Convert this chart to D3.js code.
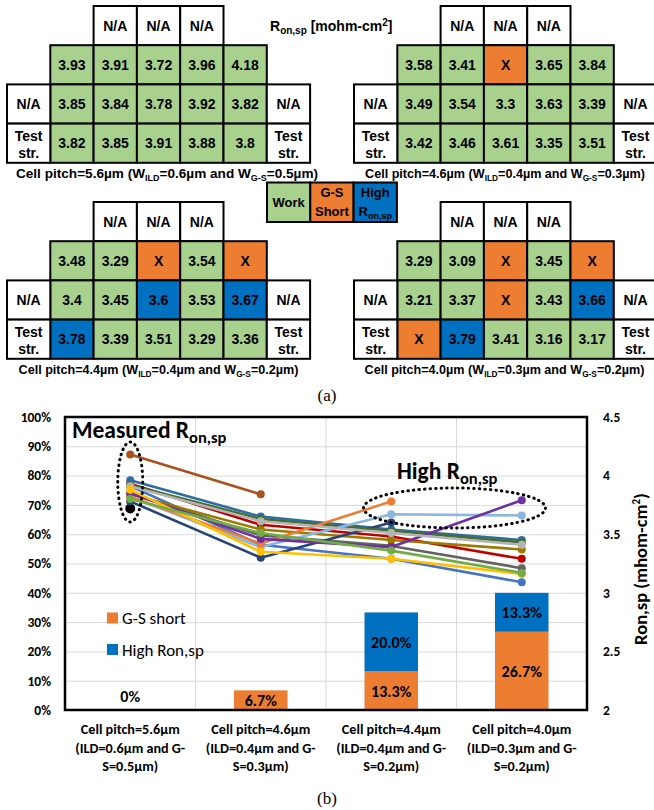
<!DOCTYPE html>
<html>
<head>
<meta charset="utf-8">
<script src="https://cdn.jsdelivr.net/npm/d3@7"></script>
<style>
  body { margin: 0; background: #fff; }
  svg { display: block; }
  .tbl text { font-family: "Liberation Sans", Arial, sans-serif; font-weight: bold; fill: #000; }
  .chart text { font-family: Carlito, Lato, sans-serif; font-weight: bold; fill: #000; }
  .caption { font-family: "Liberation Serif", "Times New Roman", serif; font-size: 17px; }
</style>
</head>
<body>
<svg id="fig" width="654" height="810"></svg>
<script>
// ---------------- data ----------------
const pitches   = ["5.6", "4.6", "4.4", "4.0"];
const ildWidths = ["0.6", "0.4", "0.4", "0.3"];
const gsWidths  = ["0.5", "0.3", "0.2", "0.2"];

// Ron,sp [mohm-cm2] per device, rows of 5, null = G-S short (X)
const ron56 = [3.93, 3.91, 3.72, 3.96, 4.18,
               3.85, 3.84, 3.78, 3.92, 3.82,
               3.82, 3.85, 3.91, 3.88, 3.8];
const ron46 = [3.58, 3.41, null, 3.65, 3.84,
               3.49, 3.54, 3.3,  3.63, 3.39,
               3.42, 3.46, 3.61, 3.35, 3.51];
const ron44 = [3.48, 3.29, null, 3.54, null,
               3.4,  3.45, 3.6,  3.53, 3.67,
               3.78, 3.39, 3.51, 3.29, 3.36];
const ron40 = [3.29, 3.09, null, 3.45, null,
               3.21, 3.37, null, 3.43, 3.66,
               null, 3.79, 3.41, 3.16, 3.17];

// W = work, S = G-S short, H = high Ron,sp
const state56 = ["W","W","W","W","W", "W","W","W","W","W", "W","W","W","W","W"];
const state46 = ["W","W","S","W","W", "W","W","W","W","W", "W","W","W","W","W"];
const state44 = ["W","W","S","W","S", "W","W","H","W","H", "H","W","W","W","W"];
const state40 = ["W","W","S","W","S", "W","W","S","W","H", "S","H","W","W","W"];

// failure ratios [%]
const gsShortPct = [0, 6.7, 13.3, 26.7];
const highRonPct = [0, 0, 20.0, 13.3];

const pctTicks = [0, 10, 20, 30, 40, 50, 60, 70, 80, 90, 100];
const ronTicks = [2, 2.5, 3, 3.5, 4, 4.5];

// line colour of each device (same order as the arrays above)
const deviceColors = ["#C00000", "#4472C4", "#000000", "#2E6DA4", "#A9521B",
                      "#636363", "#9C7A00", "#264478", "#476E31", "#8AB6E0",
                      "#ED7D31", "#7030A0", "#B4B4B4", "#FFC000", "#70AD47"];

const stateFill = { W: "#A9D18E", S: "#ED7D31", H: "#0070C0" };

const svg = d3.select("#fig");

// ---------------- (a) wafer maps ----------------
const cellW = 43.3, cellH = 39.2;

function drawGrid(x0, y0, vals, states, k, capX, capSize) {
  const g = svg.append("g").attr("class", "tbl");
  const col = d3.scaleBand().domain(d3.range(7)).range([x0, x0 + 7 * cellW]);
  const row = d3.scaleBand().domain(d3.range(4)).range([y0, y0 + 4 * cellH]);

  const cells = [];
  [2, 3, 4].forEach(c => cells.push({ r: 0, c, txt: ["N/A"], fill: "#fff" }));
  vals.forEach((v, i) => cells.push({
    r: Math.floor(i / 5) + 1, c: i % 5 + 1,
    txt: [v == null ? "X" : String(v)], fill: stateFill[states[i]]
  }));
  [0, 6].forEach(c => {
    cells.push({ r: 2, c, txt: ["N/A"], fill: "#fff" });
    cells.push({ r: 3, c, txt: ["Test", "str."], fill: "#fff" });
  });

  g.selectAll("rect").data(cells).join("rect")
    .attr("x", d => col(d.c)).attr("y", d => row(d.r))
    .attr("width", col.bandwidth()).attr("height", row.bandwidth())
    .attr("fill", d => d.fill).attr("stroke", "#000").attr("stroke-width", 2);

  g.selectAll("text.v").data(cells).join("text").attr("class", "v")
    .attr("text-anchor", "middle").style("font-size", "14px")
    .each(function (d) {
      const cx = col(d.c) + col.bandwidth() / 2, cy = row(d.r) + row.bandwidth() / 2;
      const t = d3.select(this);
      if (d.txt.length === 1) {
        t.append("tspan").attr("x", cx).attr("y", cy + 5).text(d.txt[0]);
      } else {
        t.append("tspan").attr("x", cx).attr("y", cy - 2).text(d.txt[0]);
        t.append("tspan").attr("x", cx).attr("y", cy + 14.5).text(d.txt[1]);
      }
    });

  const sub = capSize * 0.66;
  const cap = g.append("text").attr("x", capX).attr("y", y0 + 171.5)
    .attr("text-anchor", "middle").style("font-size", capSize + "px");
  cap.append("tspan").text(`Cell pitch=${pitches[k]}µm (W`);
  cap.append("tspan").attr("dy", 3).style("font-size", sub + "px").text("ILD");
  cap.append("tspan").attr("dy", -3).text(`=${ildWidths[k]}µm and W`);
  cap.append("tspan").attr("dy", 3).style("font-size", sub + "px").text("G-S");
  cap.append("tspan").attr("dy", -3).text(`=${gsWidths[k]}µm)`);
}

drawGrid(7, 6, ron56, state56, 0, 167, 13.6);
drawGrid(354, 6, ron46, state46, 1, 505, 12.6);
drawGrid(7, 202, ron44, state44, 2, 158.5, 12.6);
drawGrid(354, 202, ron40, state40, 3, 504.5, 12.6);

// title of the maps
const ttl = svg.append("g").attr("class", "tbl").append("text")
  .attr("x", 270).attr("y", 31).style("font-size", "14px");
ttl.append("tspan").text("R");
ttl.append("tspan").attr("dy", 3).style("font-size", "10px").text("on,sp");
ttl.append("tspan").attr("dy", -3).text(" [mohm-cm");
ttl.append("tspan").attr("dy", -5).style("font-size", "10px").text("2");
ttl.append("tspan").attr("dy", 5).text("]");

// legend of the maps
const legItems = [
  { fill: stateFill.W, lines: [["Work"]] },
  { fill: stateFill.S, lines: [["G-S"], ["Short"]] },
  { fill: stateFill.H, lines: [["High"], ["R", "on,sp"]] }
];
const legX = d3.scaleBand().domain(d3.range(3)).range([267, 267 + 3 * cellW]);
const leg = svg.append("g").attr("class", "tbl");
leg.selectAll("rect").data(legItems).join("rect")
  .attr("x", (d, i) => legX(i)).attr("y", 182.5)
  .attr("width", legX.bandwidth()).attr("height", 39.5)
  .attr("fill", d => d.fill).attr("stroke", "#000").attr("stroke-width", 2);
legItems.forEach((d, i) => {
  const cx = legX(i) + legX.bandwidth() / 2;
  const ys = d.lines.length === 1 ? [207] : [197, 216];
  d.lines.forEach((ln, j) => {
    const t = leg.append("text").attr("x", cx).attr("y", ys[j])
      .attr("text-anchor", "middle").style("font-size", "13px");
    t.append("tspan").text(ln[0]);
    if (ln[1]) t.append("tspan").attr("dy", 3).style("font-size", "9px").text(ln[1]);
  });
});

svg.append("text").attr("class", "caption").attr("x", 327).attr("y", 401)
  .attr("text-anchor", "middle").text("(a)");

// ---------------- (b) chart ----------------
const ch = svg.append("g").attr("class", "chart");
const pL = 65, pR = 587, pT = 417, pB = 710;

const x = d3.scaleBand().domain(pitches).range([pL, pR]);
const yPct = d3.scaleLinear().domain([0, 100]).range([pB, pT]);
const yRon = d3.scaleLinear().domain([2, 4.5]).range([pB, pT]);
const xc = p => x(p) + x.bandwidth() / 2;

// gridlines
ch.append("g").attr("transform", `translate(${pL},0)`)
  .call(d3.axisLeft(yPct).tickValues(pctTicks).tickSize(-(pR - pL)).tickFormat(""))
  .call(g => g.select(".domain").remove())
  .call(g => g.selectAll("line").attr("stroke", "#D9D9D9"));
ch.append("g").selectAll("line").data(pitches.slice(1)).join("line")
  .attr("x1", d => x(d)).attr("x2", d => x(d))
  .attr("y1", pT).attr("y2", pB).attr("stroke", "#D9D9D9");

// stacked bars
const bw = x.bandwidth() * 0.41;
const barSegs = [];
pitches.forEach((p, i) => {
  barSegs.push({ p, y0: 0, y1: gsShortPct[i], fill: stateFill.S });
  barSegs.push({ p, y0: gsShortPct[i], y1: gsShortPct[i] + highRonPct[i], fill: stateFill.H });
});
ch.append("g").selectAll("rect").data(barSegs.filter(d => d.y1 > d.y0)).join("rect")
  .attr("x", d => xc(d.p) - bw / 2).attr("width", bw)
  .attr("y", d => yPct(d.y1)).attr("height", d => yPct(d.y0) - yPct(d.y1))
  .attr("fill", d => d.fill);

// segment labels; an empty category shows a single "0%"
const fmtPct = v => v === 0 ? "0%" : d3.format(".1f")(v) + "%";
const segLabels = barSegs.filter(d => d.y1 > d.y0);
pitches.forEach((p, i) => {
  if (gsShortPct[i] + highRonPct[i] === 0) segLabels.push({ p, y0: 0, y1: 0 });
});
ch.append("g").selectAll("text").data(segLabels).join("text")
  .attr("x", d => xc(d.p))
  .attr("y", d => d.y1 > d.y0 ? yPct((d.y0 + d.y1) / 2) + 6 : yPct(0) - 8)
  .attr("text-anchor", "middle").style("font-size", "16px")
  .text(d => fmtPct(d.y1 - d.y0));

// device lines on the right axis
const line = d3.line().defined(d => d.v != null).x(d => xc(d.p)).y(d => yRon(d.v));
const devices = ron56.map((v, i) => ({
  color: deviceColors[i],
  pts: [ron56[i], ron46[i], ron44[i], ron40[i]].map((v, j) => ({ p: pitches[j], v }))
}));
const dg = ch.append("g").selectAll("g").data(devices).join("g");
dg.append("path").attr("d", d => line(d.pts)).attr("fill", "none")
  .attr("stroke", d => d.color).attr("stroke-width", 2.6).attr("stroke-linejoin", "round");
dg.selectAll("circle").data(d => d.pts.filter(q => q.v != null).map(q => ({ ...q, color: d.color })))
  .join("circle")
  .attr("cx", d => xc(d.p)).attr("cy", d => yRon(d.v))
  .attr("r", d => d.color === "#000000" ? 5 : 4).attr("fill", d => d.color);

// plot border
ch.append("rect").attr("x", pL).attr("y", pT)
  .attr("width", pR - pL).attr("height", pB - pT)
  .attr("fill", "none").attr("stroke", "#000").attr("stroke-width", 2.5);

// axes
ch.append("g").attr("transform", `translate(${pL},0)`)
  .call(d3.axisLeft(yPct).tickValues(pctTicks).tickSize(0).tickPadding(14).tickFormat(d => d + "%"))
  .call(g => g.select(".domain").remove())
  .call(g => g.selectAll("text").style("font-size", "13.5px"));
ch.append("g").attr("transform", `translate(${pR},0)`)
  .call(d3.axisRight(yRon).tickValues(ronTicks).tickSize(0).tickPadding(16).tickFormat(d3.format("")))
  .call(g => g.select(".domain").remove())
  .call(g => g.selectAll("text").style("font-size", "13.5px"));

// category labels
const catLines = pitches.map((p, i) => [
  `Cell pitch=${p}µm`, `(ILD=${ildWidths[i]}µm and G-`, `S=${gsWidths[i]}µm)`
]);
pitches.forEach((p, i) => {
  catLines[i].forEach((s, j) => {
    ch.append("text").attr("x", xc(p)).attr("y", 734 + j * 18.5)
      .attr("text-anchor", "middle").style("font-size", "14.2px").text(s);
  });
});

// right axis title
const rt = ch.append("text").attr("transform", "translate(647,569) rotate(-90)")
  .attr("text-anchor", "middle").style("font-size", "18.5px");
rt.append("tspan").text("Ron,sp (mhom-cm");
rt.append("tspan").attr("dy", -7).style("font-size", "11px").text("2");
rt.append("tspan").attr("dy", 7).text(")");

// legend
const chartLeg = [{ fill: stateFill.S, label: "G-S short" }, { fill: stateFill.H, label: "High Ron,sp" }];
chartLeg.forEach((d, i) => {
  ch.append("rect").attr("x", 107).attr("y", 612.5 + i * 31.5).attr("width", 11).attr("height", 11).attr("fill", d.fill);
  ch.append("text").attr("x", 122).attr("y", 624 + i * 31.5)
    .style("font-size", "17px").style("font-weight", "normal").text(d.label);
});

// annotations
const a1 = ch.append("text").attr("x", 72).attr("y", 438).style("font-size", "23.5px");
a1.append("tspan").text("Measured R");
a1.append("tspan").attr("dy", 5).style("font-size", "16.5px").text("on,sp");
const a2 = ch.append("text").attr("x", 397).attr("y", 479).style("font-size", "23.5px");
a2.append("tspan").text("High R");
a2.append("tspan").attr("dy", 5).style("font-size", "16.5px").text("on,sp");

const dotted = { fill: "none", stroke: "#000", "stroke-width": 3, "stroke-dasharray": "0.5 5", "stroke-linecap": "round" };
const e1 = ch.append("ellipse").attr("cx", xc("5.6")).attr("cy", 482).attr("rx", 12.5).attr("ry", 40);
const e2 = ch.append("ellipse").attr("cx", (xc("4.4") + xc("4.0")) / 2 - 2).attr("cy", 508).attr("rx", 91).attr("ry", 20);
[e1, e2].forEach(e => Object.entries(dotted).forEach(([k, v]) => e.attr(k, v)));

svg.append("text").attr("class", "caption").attr("x", 327).attr("y", 804)
  .attr("text-anchor", "middle").text("(b)");
</script>
</body>
</html>
